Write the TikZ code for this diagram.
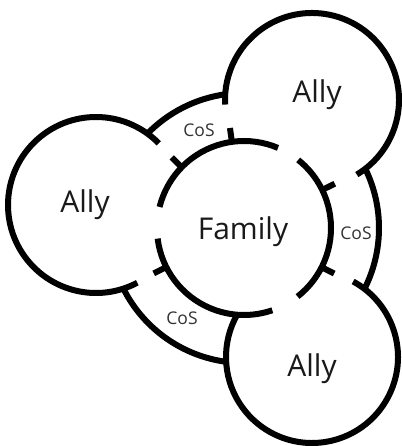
\documentclass[tikz,border=0pt]{standalone}
\usepackage{fontspec}
\setmainfont{Open Sans}
\begin{document}
\begin{tikzpicture}[x=1pt,y=1pt,
  ring/.style={line width=6pt, black},
  bigtext/.style={anchor=base, inner sep=0pt, font=\fontsize{30}{30}\selectfont, text=black!90},
  costext/.style={anchor=base, inner sep=0pt, font=\fontsize{17.5}{17.5}\selectfont, text=black!80}]
\fill[white] (0,0) rectangle (401,446);
\useasboundingbox (0,0) rectangle (401,446);
\coordinate (F) at (244,218);
\coordinate (L) at (96,241);
\coordinate (T) at (312,346);
\coordinate (B) at (312,89);
% Family circle (three arcs with gaps)
\draw[ring] ([shift={(67:87)}]F) arc[start angle=67, end angle=166, radius=87];
\draw[ring] ([shift={(187:87)}]F) arc[start angle=187, end angle=289, radius=87];
\draw[ring] ([shift={(-52:87)}]F) arc[start angle=-52, end angle=51.5, radius=87];
% ticks on family circle
\foreach \a in {135.7,98,26,-26.8,206.7}{
  \draw[ring] ([shift={(\a:85)}]F) -- ([shift={(\a:101)}]F);
}
% CoS arcs
\draw[ring] ([shift={(98:135)}]F) arc[start angle=98, end angle=135.7, radius=135];
\draw[ring] ([shift={(-26.8:135)}]F) arc[start angle=-26.8, end angle=26, radius=135];
\draw[ring] ([shift={(206.7:135)}]F) arc[start angle=206.7, end angle=262.4, radius=135];
% Ally circles
\draw[ring] ([shift={(44.5:88)}]L) arc[start angle=44.5, end angle=298, radius=88];
\draw[ring] ([shift={(-59:87)}]T) arc[start angle=-59, end angle=183, radius=87];
\draw[ring] ([shift={(61.4:86)}]B) arc[start angle=61.4, end angle=-209.5, radius=86];
% labels
\node[bigtext] (fam) at (243,206) {Family};
\node[bigtext] (allyT) at (317,343) {Ally};
\node[bigtext] (allyL) at (85,233) {Ally};
\node[bigtext] (allyB) at (312,69) {Ally};
\node[costext] (cos1) at (199,309) {CoS};
\node[costext] (cos2) at (356,206) {CoS};
\node[costext] (cos3) at (182,121) {CoS};
\end{tikzpicture}
\end{document}
